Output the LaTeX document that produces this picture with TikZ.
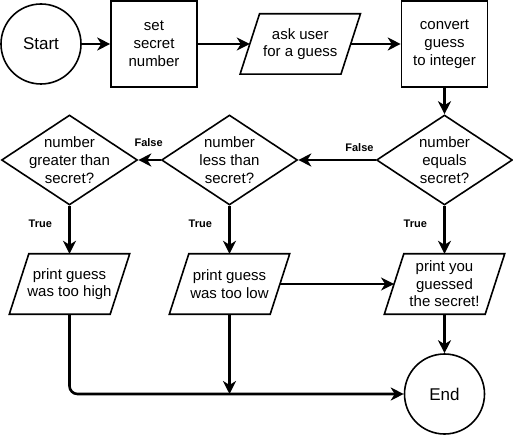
\documentclass[tikz,border=0pt]{standalone}
\usepackage{fontspec}
\setmainfont{Liberation Sans}
\usetikzlibrary{arrows.meta,positioning,shapes.geometric}

\begin{document}
\begin{tikzpicture}[x=1pt,y=1pt,
        term/.style={draw,circle,line width=1.6pt,minimum size=80pt,inner sep=0pt,font=\fontsize{17}{20}\selectfont},
        proc/.style={draw,line width=1.6pt,minimum width=86pt,minimum height=86pt,inner sep=0pt,
        align=center,font=\fontsize{15}{18}\selectfont},
        io/.style={minimum width=100.5pt,minimum height=60pt,inner sep=0pt,align=center,font=\fontsize{15}{17.5}\selectfont,
        append after command={\pgfextra{\draw[line width=1.6pt]
        ([xshift=-9.75pt]\tikzlastnode.south west)--([xshift=-9.75pt]\tikzlastnode.south east)
        --([xshift=9.75pt]\tikzlastnode.north east)--([xshift=9.75pt]\tikzlastnode.north west)--cycle;}}},
        decision/.style={draw,diamond,line width=1.6pt,minimum width=136pt,minimum height=90pt,inner sep=0pt},
        dtext/.style={align=center,font=\fontsize{15}{18}\selectfont},
        lbl/.style={font=\bfseries\fontsize{11}{13}\selectfont},
        arrow/.style={-{Stealth[length=13pt,width=13pt,inset=4pt]},line width=2.6pt}]
        \useasboundingbox (0,0) rectangle (513,-435);
        \node[term] (start) at (41,-44) {Start};
        \node[proc,right=28.4pt of start] (secret) {set\\secret\\number};
        \node[io,right=52pt of secret] (ask) {ask user\\for a guess};
        \node[proc,right=50pt of ask] (convert) {convert\\guess\\to integer};
        \node[decision,below=26.4pt of convert,label={[dtext]center:{number\\equals\\secret?}}] (equals) {};
        \node[decision,left=77.4pt of equals,label={[dtext]center:{number\\less than\\secret?}}] (less) {};
        \node[decision,left=22.4pt of less,label={[dtext]center:{number\\greater than\\secret?}}] (greater) {};
        \node[io,below=48pt of equals] (win) {print you\\guessed\\the secret!};
        \node[io,below=48pt of less] (low) {print guess\\was too low};
        \node[io,below=48pt of greater] (high) {print guess\\was too high};
        \node[term,below=39pt of win] (end) {End};
        \coordinate (join) at (low |- end);
        \draw[arrow] (start)--(secret); \draw[arrow] (secret)--(ask); \draw[arrow] (ask)--(convert);
        \draw[arrow] (convert)--(equals);
        \draw[arrow] (equals)-- node[lbl,pos=0.21,above=4pt]{False} (less);
        \draw[arrow] (less)-- node[lbl,pos=0.54,above=9pt]{False} (greater);
        \draw[arrow] (equals)-- node[lbl,pos=0.37,left=13pt]{True} (win);
        \draw[arrow] (less)-- node[lbl,pos=0.37,left=13pt]{True} (low);
        \draw[arrow] (greater)-- node[lbl,pos=0.37,left=13pt]{True} (high);
        \draw[arrow] (low)--(win); \draw[arrow] (win)--(end);
        \draw[arrow] (low)--(join);
        \draw[arrow,rounded corners=8pt] (high) |- (end);
    \end{tikzpicture}
\end{document}
